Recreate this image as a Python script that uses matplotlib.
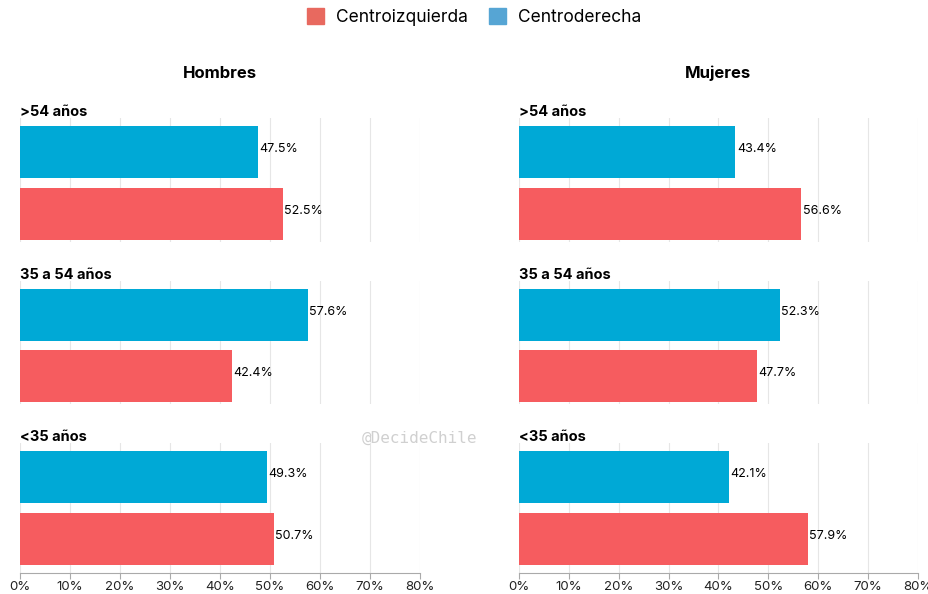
import matplotlib.pyplot as plt
from matplotlib.patches import Patch

plt.rcParams["font.family"] = ["Inter", "DejaVu Sans"]

# Data
grupos = [">54 años", "35 a 54 años", "<35 años"]
sexos = ["Hombres", "Mujeres"]
centroderecha = {"Hombres": [47.5, 57.6, 49.3], "Mujeres": [43.4, 52.3, 42.1]}
centroizquierda = {"Hombres": [52.5, 42.4, 50.7], "Mujeres": [56.6, 47.7, 57.9]}
ticks = [0, 10, 20, 30, 40, 50, 60, 70, 80]

c_izq = "#F65C5F"
c_der = "#00A9D6"

W, H = 929, 594
fig = plt.figure(figsize=(W / 100, H / 100), dpi=100)

col_x = [(20, 420), (519, 918)]
# (top px, bottom px) for each facet
rows = [(118, 242), (281, 404), (443, 573)]

for ci, sexo in enumerate(sexos):
    x0, x1 = col_x[ci]
    fig.text((x0 + x1) / 2 / W, 1 - 73 / H, sexo, ha="center", va="center",
             fontsize=12, fontweight="bold")
    for ri, grupo in enumerate(grupos):
        top, bot = rows[ri]
        ax = fig.add_axes([x0 / W, 1 - bot / H, (x1 - x0) / W, (bot - top) / H])
        d = centroderecha[sexo][ri]
        iz = centroizquierda[sexo][ri]
        ax.barh([1], [d], height=0.84, color=c_der, zorder=2)
        ax.barh([0], [iz], height=0.84, color=c_izq, zorder=2)
        for y, v in [(1, d), (0, iz)]:
            ax.text(v + 0.3, y + 0.05, f"{v}%", va="center", ha="left", fontsize=9)
        ax.set_xlim(0, 80)
        lo = -0.55 if ri == 2 else -0.45
        ax.set_ylim(lo, 1.55)
        ax.set_xticks(ticks)
        ax.set_yticks([])
        ax.grid(axis="x", color="#e6e6e6", linewidth=0.8, zorder=0)
        for s in ["top", "right", "left"]:
            ax.spines[s].set_visible(False)
        if ri == 2:
            ax.spines["bottom"].set_color("#aaaaaa")
            ax.tick_params(axis="x", colors="#aaaaaa", labelcolor="#222222",
                           labelsize=9.5, length=4, pad=2)
            ax.set_xticklabels([f"{t}%" for t in ticks])
        else:
            ax.spines["bottom"].set_visible(False)
            ax.tick_params(axis="x", length=0, labelbottom=False)
        fig.text(x0 / W, 1 - (top - 6) / H, grupo, ha="left", va="center",
                 fontsize=10.5, fontweight="bold")

fig.text(420 / W, 1 - 438 / H, "@DecideChile", ha="center", va="center",
         fontsize=11.5, color="#d0d0d0", family="DejaVu Sans Mono")

handles = [Patch(color="#E8695F", label="Centroizquierda"),
           Patch(color="#56A5D4", label="Centroderecha")]
fig.legend(handles=handles, loc="center", bbox_to_anchor=(474 / W, 1 - 17 / H),
           ncol=2, frameon=False, fontsize=12.5, handlelength=1.0,
           handleheight=1.0, columnspacing=1.2, handletextpad=0.7)

fig.savefig("out.png", dpi=100)
